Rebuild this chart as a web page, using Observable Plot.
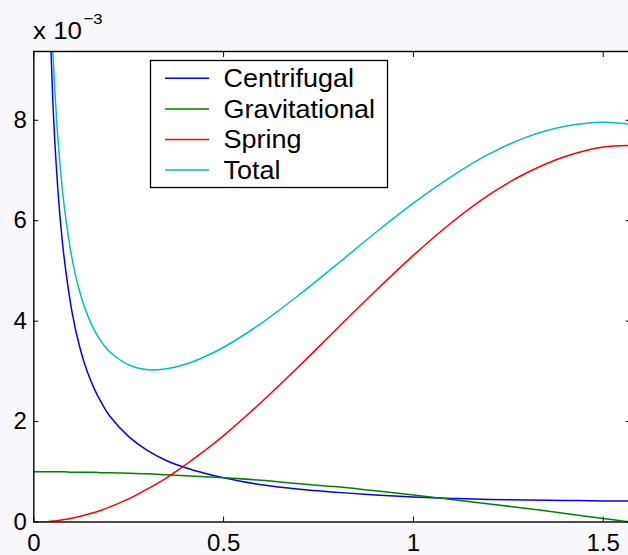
<!DOCTYPE html>
<html><head><meta charset="utf-8">
<script src="https://cdn.jsdelivr.net/npm/d3@7"></script>
<script src="https://cdn.jsdelivr.net/npm/@observablehq/plot@0.6"></script>
<style>
html,body{margin:0;padding:0;background:#f8f8fc;}
#chart{position:relative;width:628px;height:555px;}
</style></head><body><div id="chart"></div>
<script>
// angle (rad)
const theta = [0, 0.03, 0.04, 0.05, 0.06, 0.07, 0.08, 0.1, 0.12, 0.14, 0.16, 0.18, 0.2, 0.25, 0.3, 0.35, 0.4, 0.45, 0.5, 0.6, 0.7, 0.8, 0.9, 1.0, 1.1, 1.2, 1.3, 1.4, 1.5, 1.5708];
// energies in units of 1e-3
const centrifugal = [null, 14.00, 10.50, 8.40, 7.00, 6.00, 5.26, 4.21, 3.51, 3.01, 2.64, 2.35, 2.11, 1.70, 1.42, 1.22, 1.08, 0.97, 0.88, 0.74, 0.65, 0.59, 0.54, 0.50, 0.47, 0.45, 0.44, 0.43, 0.42, 0.42];
const gravitational = [1.00, 1.00, 1.00, 1.00, 1.00, 1.00, 1.00, 0.99, 0.99, 0.99, 0.99, 0.98, 0.98, 0.97, 0.96, 0.94, 0.92, 0.90, 0.88, 0.83, 0.76, 0.70, 0.62, 0.54, 0.45, 0.36, 0.27, 0.17, 0.07, 0.00];
const spring = [0, 0.007, 0.012, 0.019, 0.027, 0.037, 0.048, 0.075, 0.11, 0.15, 0.19, 0.24, 0.30, 0.46, 0.66, 0.88, 1.14, 1.42, 1.72, 2.39, 3.11, 3.86, 4.60, 5.31, 5.96, 6.52, 6.96, 7.28, 7.47, 7.50];
const total = [null, 15.01, 11.51, 9.42, 8.03, 7.04, 6.30, 5.28, 4.61, 4.15, 3.81, 3.57, 3.39, 3.13, 3.03, 3.05, 3.14, 3.29, 3.48, 3.96, 4.53, 5.14, 5.76, 6.35, 6.88, 7.33, 7.67, 7.88, 7.96, 7.92];

const seriesNames = ["Centrifugal", "Gravitational", "Spring", "Total"];
const seriesColors = ["#0000ff", "#008000", "#ff0000", "#00bfbf"];
const xTicks = [0, 0.5, 1, 1.5];
const xTickLabels = ["0", "0.5", "1", "1.5"];
const yTicks = [0, 2, 4, 6, 8];
const yTickLabels = ["0", "2", "4", "6", "8"];
const xDomain = [0, 1.5708];
const yDomain = [0, 9.37];
const exponentBase = "x 10";
const exponentText = "\u22123";

const seriesValues = [centrifugal, gravitational, spring, total];
const rows = seriesNames.flatMap((name, k) =>
  theta.map((t, i) => ({x: t, y: seriesValues[k][i], series: name})));

const font = '"Liberation Sans", Arial, Helvetica, sans-serif';

const plot = Plot.plot({
  width: 628, height: 555,
  marginLeft: 33.3, marginTop: 51, marginBottom: 33.5, marginRight: -1.6,
  style: {fontFamily: font, fontSize: "24px", background: "#f8f8fc", color: "black", overflow: "visible"},
  x: {domain: xDomain, label: null},
  y: {domain: yDomain, label: null},
  color: {domain: seriesNames, range: seriesColors},
  marks: [
    Plot.frame({fill: "white", stroke: null}),
    Plot.line(rows, {x: "x", y: "y", z: "series", stroke: "series", strokeWidth: 1.5, curve: "catmull-rom", clip: true}),
    Plot.frame({stroke: "black", strokeWidth: 1.4}),
    Plot.axisX(xTicks, {anchor: "bottom", tickSize: 0, tickPadding: 12, tickFormat: d => xTickLabels[xTicks.indexOf(d)], label: null}),
    Plot.axisX(xTicks, {anchor: "bottom", tickSize: -5, fill: "none", label: null}),
    Plot.axisX(xTicks, {anchor: "top", tickSize: -5, fill: "none", label: null}),
    Plot.axisY(yTicks, {anchor: "left", tickSize: 0, tickPadding: 7, tickFormat: d => yTickLabels[yTicks.indexOf(d)], label: null}),
    Plot.axisY(yTicks, {anchor: "left", tickSize: -5, fill: "none", label: null}),
    Plot.axisY(yTicks, {anchor: "right", tickSize: -5, fill: "none", label: null})
  ]
});

const svg = d3.select(plot);
// exponent label
const ex = svg.append("text").attr("transform", "translate(33,38.5) scale(1.08,1)").attr("text-anchor", "start")
  .attr("font-family", font).attr("font-size", 24).attr("fill", "black");
ex.append("tspan").text(exponentBase);
ex.append("tspan").attr("dx", 1.5).attr("dy", -15).attr("font-size", 15.5).text(exponentText);

// legend
const lg = svg.append("g").attr("font-family", font).attr("font-size", 25).attr("text-anchor", "start");
lg.append("rect").attr("x", 150.5).attr("y", 60.5).attr("width", 237).attr("height", 127)
  .attr("fill", "white").attr("stroke", "black").attr("stroke-width", 1.3);
seriesNames.forEach((name, i) => {
  const y = 78.3 + i * 30.6;
  lg.append("line").attr("x1", 165).attr("x2", 209).attr("y1", y).attr("y2", y)
    .attr("stroke", seriesColors[i]).attr("stroke-width", 1.5);
  lg.append("text").attr("transform", `translate(223.5,${y + 8.6}) scale(1.08,1)`).attr("fill", "black").text(name);
});

document.getElementById("chart").appendChild(plot);
</script>
</body></html>
